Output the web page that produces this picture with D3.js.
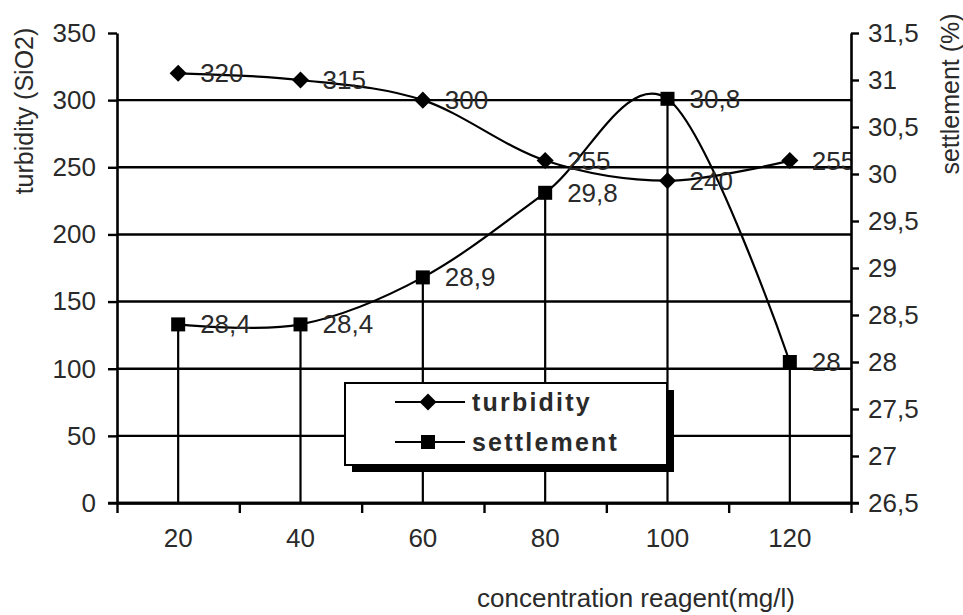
<!DOCTYPE html>
<html>
<head>
<meta charset="utf-8">
<script src="https://cdn.jsdelivr.net/npm/d3@7"></script>
<style>
  html, body { margin: 0; padding: 0; background: #fff; }
  svg { display: block; }
  text { font-family: "Liberation Sans", Arial, sans-serif; fill: #2a2a2a; }
</style>
</head>
<body>
<svg id="chart" width="963" height="615"></svg>
<script>
// Concentration of reagent (mg/l)
const categories = ["20", "40", "60", "80", "100", "120"];
// Turbidity, left axis (SiO2)
const turbidity = [320, 315, 300, 255, 240, 255];
// Settlement, right axis (%)
const settlement = [28.4, 28.4, 28.9, 29.8, 30.8, 28];
// Axis ticks
const leftTicks = [0, 50, 100, 150, 200, 250, 300, 350];
const rightTicks = [26.5, 27, 27.5, 28, 28.5, 29, 29.5, 30, 30.5, 31, 31.5];
const gridTicks = [0, 50, 100, 150, 200, 250, 300];

const svg = d3.select("#chart");
const plot = { left: 117, right: 851, top: 33, bottom: 503 };
const FONT = 26;
const TITLE_FONT = 25;

const comma = v => String(v).replace(".", ",");

const xBand = d3.scaleBand().domain(categories).range([plot.left, plot.right]);
const xEdge = d3.scaleLinear().domain([0, categories.length]).range([plot.left, plot.right]);
const xc = c => xBand(c) + xBand.bandwidth() / 2;
const yL = d3.scaleLinear().domain([0, 350]).range([plot.bottom, plot.top]);
const yR = d3.scaleLinear().domain([26.5, 31.5]).range([plot.bottom, plot.top]);

svg.append("defs").append("clipPath").attr("id", "plotClip")
  .append("rect").attr("x", 0).attr("y", 0).attr("width", plot.right).attr("height", 615);

// horizontal gridlines
svg.append("g").selectAll("line").data(gridTicks).join("line")
  .attr("x1", plot.left).attr("x2", plot.right)
  .attr("y1", d => yL(d)).attr("y2", d => yL(d))
  .attr("stroke", "#000").attr("stroke-width", 2.4);

// drop lines from the settlement points to the category axis
svg.append("g").selectAll("line").data(categories).join("line")
  .attr("x1", d => xc(d)).attr("x2", d => xc(d))
  .attr("y1", (d, i) => yR(settlement[i])).attr("y2", plot.bottom)
  .attr("stroke", "#000").attr("stroke-width", 2.2);

const curve = d3.curveCardinal.tension(0);

const turbLine = d3.line().x((d, i) => xc(categories[i])).y(d => yL(d)).curve(curve);
const settLine = d3.line().x((d, i) => xc(categories[i])).y(d => yR(d)).curve(curve);

svg.append("path").attr("d", turbLine(turbidity))
  .attr("fill", "none").attr("stroke", "#000").attr("stroke-width", 2.2);
svg.append("path").attr("d", settLine(settlement))
  .attr("fill", "none").attr("stroke", "#000").attr("stroke-width", 2.2);

const diamond = d3.symbol().type(d3.symbolDiamond2).size(185);
const square = d3.symbol().type(d3.symbolSquare2).size(250);

svg.append("g").selectAll("path").data(turbidity).join("path")
  .attr("d", diamond)
  .attr("transform", (d, i) => `translate(${xc(categories[i])},${yL(d)})`)
  .attr("fill", "#000");
svg.append("g").selectAll("path").data(settlement).join("path")
  .attr("d", square)
  .attr("transform", (d, i) => `translate(${xc(categories[i])},${yR(d)})`)
  .attr("fill", "#000");

// value labels
const labels = svg.append("g").attr("clip-path", "url(#plotClip)")
  .attr("font-size", FONT);
labels.selectAll("text.t").data(turbidity).join("text").attr("class", "t")
  .attr("x", (d, i) => xc(categories[i]) + 22)
  .attr("y", d => yL(d))
  .attr("dominant-baseline", "central")
  .text(d => comma(d));
labels.selectAll("text.s").data(settlement).join("text").attr("class", "s")
  .attr("x", (d, i) => xc(categories[i]) + 22)
  .attr("y", d => yR(d))
  .attr("dominant-baseline", "central")
  .text(d => comma(d));

// left axis
const gL = svg.append("g").attr("transform", `translate(${plot.left},0)`)
  .call(d3.axisLeft(yL).tickValues(leftTicks).tickSize(9).tickPadding(12).tickSizeOuter(0));
// right axis
const gR = svg.append("g").attr("transform", `translate(${plot.right},0)`)
  .call(d3.axisRight(yR).tickValues(rightTicks).tickFormat(comma).tickSize(8).tickPadding(9).tickSizeOuter(0));
// bottom axis: tick marks on category boundaries, labels at centres
const gB = svg.append("g").attr("transform", `translate(0,${plot.bottom})`)
  .call(d3.axisBottom(xEdge).tickValues(d3.range(categories.length + 1)).tickFormat("").tickSize(10).tickSizeOuter(0));
const gBL = svg.append("g").attr("transform", `translate(0,${plot.bottom})`)
  .call(d3.axisBottom(xBand).tickSize(0).tickPadding(26).tickSizeOuter(0));
gBL.select(".domain").remove();

[gL, gR, gB, gBL].forEach(g => {
  g.selectAll("text").attr("font-size", FONT).attr("font-family", "Liberation Sans, Arial, sans-serif").attr("fill", "#2a2a2a");
  g.selectAll("line").attr("stroke", "#000").attr("stroke-width", 2.4);
  g.select(".domain").attr("stroke", "#000").attr("stroke-width", 2.6);
});
// x axis extends a little left past the value axis
svg.append("line").attr("x1", plot.left - 9).attr("x2", plot.right + 8)
  .attr("y1", plot.bottom).attr("y2", plot.bottom)
  .attr("stroke", "#000").attr("stroke-width", 2.6);

// axis titles
svg.append("text").attr("transform", "translate(24,111) rotate(-90)")
  .attr("text-anchor", "middle").attr("dominant-baseline", "central")
  .attr("font-size", TITLE_FONT).text("turbidity (SiO2)");
svg.append("text").attr("transform", "translate(950,94) rotate(-90)")
  .attr("text-anchor", "middle").attr("dominant-baseline", "central")
  .attr("font-size", TITLE_FONT).text("settlement (%)");
svg.append("text").attr("x", 636).attr("y", 607)
  .attr("text-anchor", "middle").attr("font-size", FONT)
  .text("concentration reagent(mg/l)");

// legend with drop shadow
const lg = svg.append("g");
const box = { x: 345, y: 383, w: 322, h: 82 };
lg.append("rect").attr("x", box.x + 7).attr("y", box.y + 7).attr("width", box.w).attr("height", box.h).attr("fill", "#000");
lg.append("rect").attr("x", box.x).attr("y", box.y).attr("width", box.w).attr("height", box.h)
  .attr("fill", "#fff").attr("stroke", "#000").attr("stroke-width", 2);
const entries = [
  { name: "turbidity", sym: diamond, y: 402 },
  { name: "settlement", sym: square, y: 442 }
];
entries.forEach(e => {
  lg.append("line").attr("x1", 395).attr("x2", 465).attr("y1", e.y).attr("y2", e.y)
    .attr("stroke", "#000").attr("stroke-width", 2.2);
  lg.append("path").attr("d", e.sym).attr("transform", `translate(428,${e.y})`).attr("fill", "#000");
  lg.append("text").attr("x", 472).attr("y", e.y).attr("dominant-baseline", "central")
    .attr("font-size", 25).attr("font-weight", "bold").attr("letter-spacing", 2.2)
    .attr("fill", "#111").text(e.name);
});
</script>
</body>
</html>
